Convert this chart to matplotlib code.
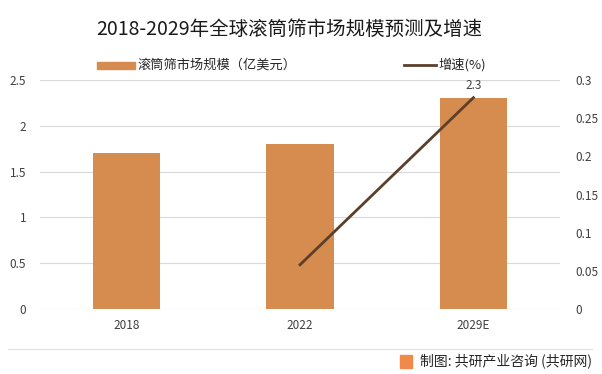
import matplotlib.pyplot as plt
from matplotlib.patches import Rectangle

plt.rcParams['font.family'] = ['Noto Sans CJK SC', 'DejaVu Sans']

years = ['2018', '2022', '2029E']
market = [1.7, 1.8, 2.3]
growth_years = ['2022', '2029E']
growth = [0.058, 0.277]

bar_color = '#d58c4e'
line_color = '#5c3f2a'
grid_color = '#d9d9d9'
text_color = '#404040'

fig = plt.figure(figsize=(6.02, 3.74), dpi=100)
ax = fig.add_axes([0.0664, 0.1738, 0.864, 0.612])
ax2 = ax.twinx()

x = list(range(len(years)))
ax.bar(x, market, width=0.39, color=bar_color, zorder=2, label='滚筒筛市场规模（亿美元）')
ax.set_xlim(-0.5, 2.5)
ax.set_ylim(0, 2.5)
ax.set_yticks([0, 0.5, 1, 1.5, 2, 2.5])
ax.set_yticklabels(['0', '0.5', '1', '1.5', '2', '2.5'])
ax.set_xticks(x)
ax.set_xticklabels(years)
ax.grid(axis='y', color=grid_color, linewidth=0.8, zorder=0)
ax.set_axisbelow(True)

gx = [years.index(y) for y in growth_years]
ax2.plot(gx, growth, color=line_color, linewidth=2, zorder=3, label='增速(%)')
ax2.set_ylim(0, 0.3)
ax2.set_yticks([0, 0.05, 0.1, 0.15, 0.2, 0.25, 0.3])
ax2.set_yticklabels(['0', '0.05', '0.1', '0.15', '0.2', '0.25', '0.3'])
ax2.text(gx[-1], growth[-1] + 0.008, '2.3', ha='center', va='bottom', fontsize=8.5, color=text_color)

for a in (ax, ax2):
    for s in a.spines.values():
        s.set_visible(False)
    a.tick_params(length=0, labelsize=8.5, colors=text_color)
ax.tick_params(axis='y', pad=10)
ax2.tick_params(axis='y', pad=11)
ax.tick_params(axis='x', pad=7)

fig.text(0.48, 0.92, '2018-2029年全球滚筒筛市场规模预测及增速', ha='center', va='center',
         fontsize=14, color='#1a1a1a')

# legend
fig.patches.append(Rectangle((97 / 602, 1 - 69 / 374), 38 / 602, 7 / 374,
                             transform=fig.transFigure, color=bar_color))
fig.text(138 / 602, 1 - 65 / 374, '滚筒筛市场规模（亿美元）', va='center', fontsize=9.5, color='#262626')
fig.lines.append(plt.Line2D([404 / 602, 436 / 602], [1 - 65 / 374, 1 - 65 / 374],
                            transform=fig.transFigure, color=line_color, linewidth=2))
fig.text(438 / 602, 1 - 65 / 374, '增速(%)', va='center', fontsize=9.5, color='#262626')

# footer
fig.lines.append(plt.Line2D([8 / 602, 592 / 602], [1 - 349 / 374, 1 - 349 / 374],
                            transform=fig.transFigure, color='#e0e0e0', linewidth=0.8))
fig.patches.append(Rectangle((400 / 602, 1 - 368 / 374), 12 / 602, 13 / 374,
                             transform=fig.transFigure, color='#f08a4b'))
fig.text(420 / 602, 1 - 361 / 374, '制图: 共研产业咨询 (共研网)', va='center', fontsize=10, color='#262626')

plt.savefig('out.png', dpi=100)
